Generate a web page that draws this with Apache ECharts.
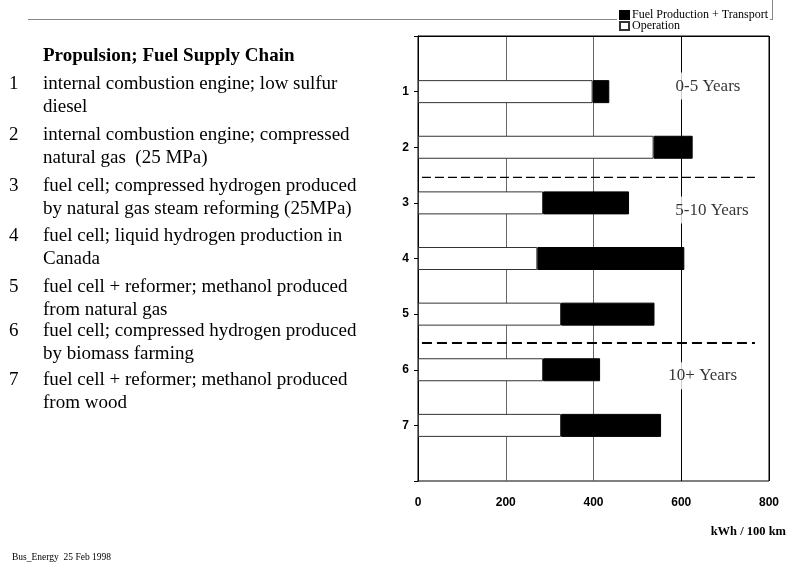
<!DOCTYPE html>
<html>
<head>
<meta charset="utf-8">
<script src="https://cdn.jsdelivr.net/npm/echarts@6/dist/echarts.min.js"></script>
<style>
  html,body{margin:0;padding:0;background:#fff;}
  #chart{width:787px;height:573px;}
</style>
</head>
<body>
<div id="chart"></div>
<script>
  // rows of the chart, top to bottom
  var categories = ['1','2','3','4','5','6','7'];
  var operation = [398, 537, 285, 272, 326, 285, 326];
  var fuelTransport = [38, 89, 196, 335, 213, 130, 228];
  var xTicks = [0, 200, 400, 600, 800];
  var seriesNames = ['Fuel Production + Transport', 'Operation'];

  // horizon groups (dashed separators between rows)
  var dividers = [2.54, 5.52];
  var zoneLabels = ['0-5 Years', '5-10 Years', '10+ Years'];
  var zoneX = [661, 670, 649];
  var zoneY = [0.9, 3.13, 6.11];

  // text list on the left
  var listTitle = 'Propulsion; Fuel Supply Chain';
  var listLines = [
    ['internal combustion engine; low sulfur', 'diesel'],
    ['internal combustion engine; compressed', 'natural gas  (25 MPa)'],
    ['fuel cell; compressed hydrogen produced', 'by natural gas steam reforming (25MPa)'],
    ['fuel cell; liquid hydrogen production in', 'Canada'],
    ['fuel cell + reformer; methanol produced', 'from natural gas'],
    ['fuel cell; compressed hydrogen produced', 'by biomass farming'],
    ['fuel cell + reformer; methanol produced', 'from wood']
  ];
  var listY = [85, 136, 187, 237, 288, 332, 381];

  var serif = '"Liberation Serif", "Times New Roman", serif';
  var sans = '"Liberation Sans", Arial, sans-serif';

  var axisCats = [''].concat(categories, ['']);
  function pad(arr){ return [null].concat(arr, [null]); }

  var graphics = [
    {type:'line', z:0, shape:{x1:28, y1:19.5, x2:772, y2:19.5}, style:{stroke:'#888', lineWidth:1}},
    {type:'line', z:0, shape:{x1:772.5, y1:0, x2:772.5, y2:20}, style:{stroke:'#888', lineWidth:1}},
    {type:'text', left:43, top:47, style:{text:listTitle, font:'bold 19px ' + serif, fill:'#000'}},
    {type:'text', left:12, top:552, style:{text:'Bus_Energy  25 Feb 1998', font:'9.5px ' + serif, fill:'#000'}},
    {type:'text', right:1, top:525, style:{text:'kWh / 100 km', font:'bold 12.5px ' + serif, fill:'#000'}}
  ];
  listLines.forEach(function(lines, i){
    graphics.push({type:'text', left:9, top:listY[i]-10, style:{text:String(i+1), font:'19px ' + serif, fill:'#000'}});
    lines.forEach(function(t, j){
      graphics.push({type:'text', left:43, top:listY[i]-10+j*23, style:{text:t, font:'19px ' + serif, fill:'#000'}});
    });
  });

  var myChart = echarts.init(document.getElementById('chart'));
  var option = {
    backgroundColor:'#fff',
    animation:false,
    grid:{left:418, right:18, top:36, bottom:92, show:true, borderColor:'#000', borderWidth:1},
    legend:{
      data:seriesNames,
      orient:'vertical',
      left:617, top:8,
      icon:'rect',
      itemWidth:9, itemHeight:8,
      itemGap:-1,
      backgroundColor:'#fff',
      padding:[1,2,1,2],
      textStyle:{fontFamily:serif, fontSize:12, color:'#000', padding:[0,0,0,-2]}
    },
    xAxis:{
      type:'value', min:xTicks[0], max:xTicks[xTicks.length-1], interval:200,
      axisLine:{show:true, lineStyle:{color:'#000'}},
      axisTick:{show:false},
      axisLabel:{fontFamily:sans, fontWeight:'bold', fontSize:12, color:'#000', margin:16},
      splitLine:{show:true, lineStyle:{color:['#000','#666','#666','#000','#000'], width:1}}
    },
    yAxis:[{
      type:'category', data:axisCats, inverse:true, boundaryGap:false,
      axisLine:{show:true, onZero:false, lineStyle:{color:'#000'}},
      axisTick:{show:true, length:4, lineStyle:{color:'#000'}},
      axisLabel:{fontFamily:sans, fontWeight:'bold', fontSize:12, color:'#000', margin:9},
      splitLine:{show:false}
    },{
      type:'value', min:0, max:8, inverse:true, show:false
    }],
    series:[{
      name:seriesNames[1], type:'bar', stack:'total', barWidth:23,
      data:pad(operation),
      itemStyle:{color:'#fff', borderColor:'#333', borderWidth:1}
    },{
      name:seriesNames[0], type:'bar', stack:'total', barWidth:23,
      data:pad(fuelTransport),
      itemStyle:{color:'#000', borderColor:'#000', borderWidth:1}
    },{
      type:'line', yAxisIndex:1, symbol:'none', silent:true,
      data:[[9, dividers[0]],[768, dividers[0]]],
      lineStyle:{color:'#000', width:1.3, type:[9,4]}
    },{
      type:'line', yAxisIndex:1, symbol:'none', silent:true,
      data:[[9, dividers[1]],[768, dividers[1]]],
      lineStyle:{color:'#000', width:2, type:[10,5]}
    },{
      type:'scatter', yAxisIndex:1, symbolSize:0, silent:true, z:5,
      data:zoneLabels.map(function(t, i){ return [zoneX[i], zoneY[i], t]; }),
      label:{show:true, position:'inside', formatter:function(p){ return p.value[2]; },
        fontFamily:serif, fontSize:17, color:'#000', backgroundColor:'#fff', padding:[5,2]}
    }],
    graphic:graphics
  };
  myChart.setOption(option);
  window.addEventListener('resize', function(){ myChart.resize(); });
</script>
</body>
</html>
